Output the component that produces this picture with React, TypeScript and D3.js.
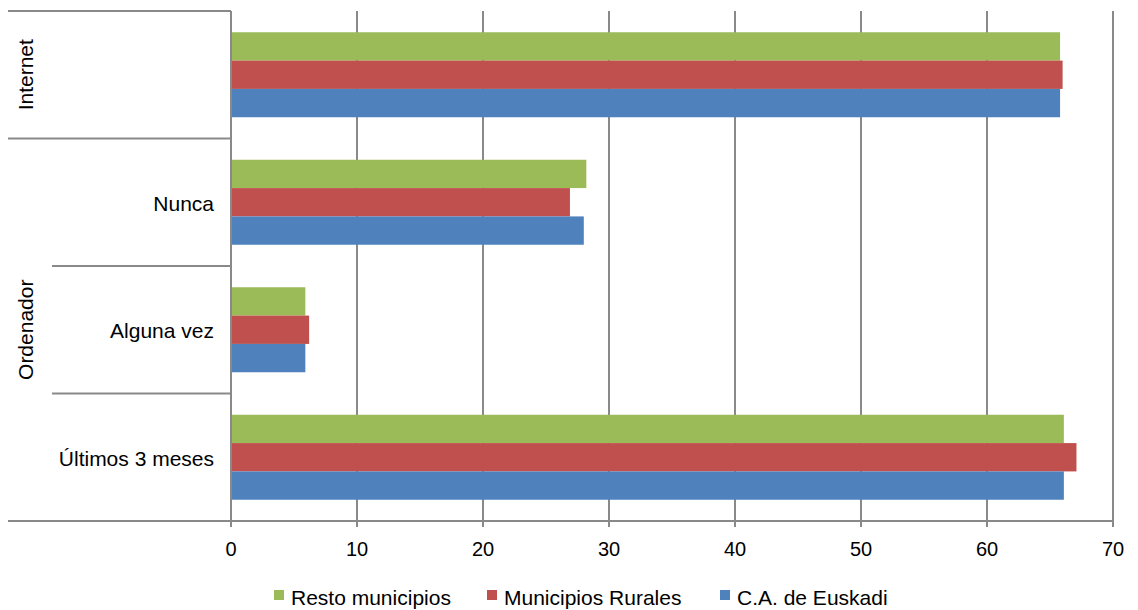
import React from "react";
import * as d3 from "d3";

const categories = ["Internet", "Nunca", "Alguna vez", "Últimos 3 meses"];
const innerLabels = ["", "Nunca", "Alguna vez", "Últimos 3 meses"];
const outerGroups = [
  { label: "Internet", from: 0, to: 0 },
  { label: "Ordenador", from: 1, to: 3 },
];
const seriesNames = ["Resto municipios", "Municipios Rurales", "C.A. de Euskadi"];
const seriesColors = ["#9BBB59", "#C0504D", "#4F81BD"];
const restoMunicipios = [65.8, 28.2, 5.9, 66.1];
const municipiosRurales = [66.0, 26.9, 6.2, 67.1];
const caEuskadi = [65.8, 28.0, 5.9, 66.1];
const xTicks = [0, 10, 20, 30, 40, 50, 60, 70];

const seriesValues = [restoMunicipios, municipiosRurales, caEuskadi];

const W = 1138;
const H = 610;
const plotLeft = 231;
const plotRight = 1113;
const plotTop = 11;
const plotBottom = 521;
const outerLeft = 8;
const innerLeft = 52;
const gridColor = "#898989";
const font = "'Liberation Sans', Arial, sans-serif";

export default function App() {
  const x = d3.scaleLinear().domain([0, 70]).range([plotLeft, plotRight]);
  const y = d3.scaleBand<string>().domain(categories).range([plotTop, plotBottom]).paddingInner(0).paddingOuter(0);
  const ys = d3
    .scaleBand<string>()
    .domain(seriesNames)
    .range([0, y.bandwidth()])
    .paddingInner(0)
    .paddingOuter(0.75);

  const bandEdges = categories.map((c) => y(c) as number);
  bandEdges.push(plotBottom);

  const legendX = [274, 487, 720];

  return (
    <svg
      width={W}
      height={H}
      style={{ position: "absolute", left: 0, top: 0, background: "#fff" }}
      fontFamily={font}
    >
      <rect x={0} y={0} width={W} height={H} fill="#fff" />
      {/* vertical gridlines */}
      {xTicks.filter((t) => t > 0).map((t) => (
        <line key={"g" + t} x1={x(t)} x2={x(t)} y1={plotTop} y2={plotBottom} stroke={gridColor} strokeWidth={2} />
      ))}
      {/* bars */}
      {seriesNames.map((s, si) =>
        categories.map((c, ci) => (
          <rect
            key={s + c}
            x={x(0)}
            y={(y(c) as number) + (ys(s) as number)}
            width={x(seriesValues[si][ci]) - x(0)}
            height={ys.bandwidth()}
            fill={seriesColors[si]}
          />
        ))
      )}
      {/* category separators */}
      {bandEdges.map((e, i) => {
        const isOuter = outerGroups.some((g) => y(categories[g.from]) === e) || e === plotBottom;
        return (
          <line
            key={"s" + i}
            x1={isOuter ? outerLeft : innerLeft}
            x2={plotLeft}
            y1={e}
            y2={e}
            stroke={gridColor}
            strokeWidth={2}
          />
        );
      })}
      {/* axes */}
      <line x1={plotLeft} x2={plotLeft} y1={plotTop} y2={plotBottom + 6} stroke={gridColor} strokeWidth={2} />
      <line x1={outerLeft} x2={plotRight} y1={plotBottom} y2={plotBottom} stroke={gridColor} strokeWidth={2} />
      {xTicks.map((t) => (
        <g key={"t" + t}>
          <line x1={x(t)} x2={x(t)} y1={plotBottom} y2={plotBottom + 6} stroke={gridColor} strokeWidth={2} />
          <text x={x(t)} y={556} textAnchor="middle" fontSize={20} fill="#000">
            {t}
          </text>
        </g>
      ))}
      {/* inner labels */}
      {categories.map((c, i) => (
        <text
          key={"l" + c}
          x={214}
          y={(y(c) as number) + y.bandwidth() / 2 + 8.5}
          textAnchor="end"
          fontSize={21}
          fill="#000"
        >
          {innerLabels[i]}
        </text>
      ))}
      {/* outer labels */}
      {outerGroups.map((g) => {
        const top = y(categories[g.from]) as number;
        const bottom = (y(categories[g.to]) as number) + y.bandwidth();
        const cy = (top + bottom) / 2;
        return (
          <text
            key={"o" + g.label}
            transform={`translate(33, ${cy}) rotate(-90)`}
            textAnchor="middle"
            fontSize={21}
            fill="#000"
          >
            {g.label}
          </text>
        );
      })}
      {/* legend */}
      {seriesNames.map((s, i) => (
        <g key={"lg" + s}>
          <rect x={legendX[i]} y={590} width={10} height={10} fill={seriesColors[i]} />
          <text x={legendX[i] + 17} y={605} fontSize={21} fill="#000">
            {s}
          </text>
        </g>
      ))}
    </svg>
  );
}
